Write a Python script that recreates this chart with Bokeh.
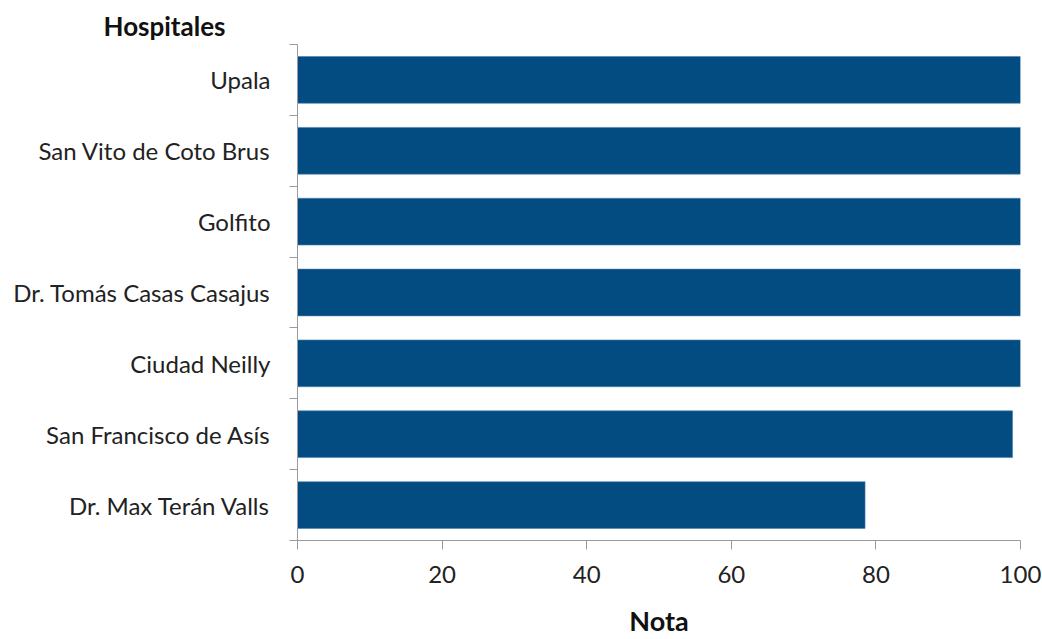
from bokeh.plotting import figure
from bokeh.models import FixedTicker, Range1d, ColumnDataSource
from bokeh.embed import file_html
from bokeh.resources import INLINE

hospitales = ["Dr. Max Terán Valls", "San Francisco de Asís", "Ciudad Neilly",
              "Dr. Tomás Casas Casajus", "Golfito", "San Vito de Coto Brus", "Upala"]
notas = [78.5, 98.9, 100, 100, 100, 100, 100]
x_ticks = [0, 20, 40, 60, 80, 100]

pos = [i + 0.5 for i in range(len(hospitales))]
src = ColumnDataSource(dict(y=pos, right=notas, name=hospitales))

FONT = "Lato"
p = figure(width=1042, height=639, output_backend="svg", toolbar_location=None,
           x_range=Range1d(0, 100), y_range=Range1d(0, len(hospitales)),
           min_border_left=297, min_border_right=22, min_border_top=44, min_border_bottom=89)

p.hbar(y="y", right="right", left=0, height=0.66, source=src,
       fill_color="#034C82", line_color="#4f7fae", line_width=0.6)

p.outline_line_color = None
p.xgrid.grid_line_color = None
p.ygrid.grid_line_color = None

# title
p.title.text = "Hospitales"
p.title.align = "left"
p.title.offset = -194
p.title.text_font = FONT
p.title.text_font_size = "26px"
p.title.text_font_style = "bold"
p.title.text_color = "#111111"
p.title.standoff = 6

# x axis
xa = p.xaxis[0]
xa.ticker = FixedTicker(ticks=x_ticks)
xa.axis_line_color = "#9a9a9a"
xa.major_tick_line_color = "#9a9a9a"
xa.major_tick_out = 9
xa.major_tick_in = 0
xa.minor_tick_line_color = None
xa.major_label_text_font = FONT
xa.major_label_text_font_size = "24px"
xa.major_label_text_color = "#222222"
xa.major_label_standoff = 16
xa.axis_label = "Nota"
xa.axis_label_text_font = FONT
xa.axis_label_text_font_size = "27px"
xa.axis_label_text_font_style = "bold"
xa.axis_label_text_color = "#111111"
xa.axis_label_standoff = 18

# y axis
ya = p.yaxis[0]
ya.ticker = FixedTicker(ticks=pos, minor_ticks=list(range(len(hospitales) + 1)))
ya.major_label_overrides = {v: n for v, n in zip(pos, hospitales)}
ya.axis_line_color = "#9a9a9a"
ya.major_tick_line_color = None
ya.major_tick_out = 0
ya.major_tick_in = 0
ya.minor_tick_line_color = "#9a9a9a"
ya.minor_tick_out = 8
ya.minor_tick_in = 0
ya.major_label_text_font = FONT
ya.major_label_text_font_size = "24px"
ya.major_label_text_color = "#222222"
ya.major_label_standoff = 19

open("out.html", "w").write(file_html(p, INLINE))
